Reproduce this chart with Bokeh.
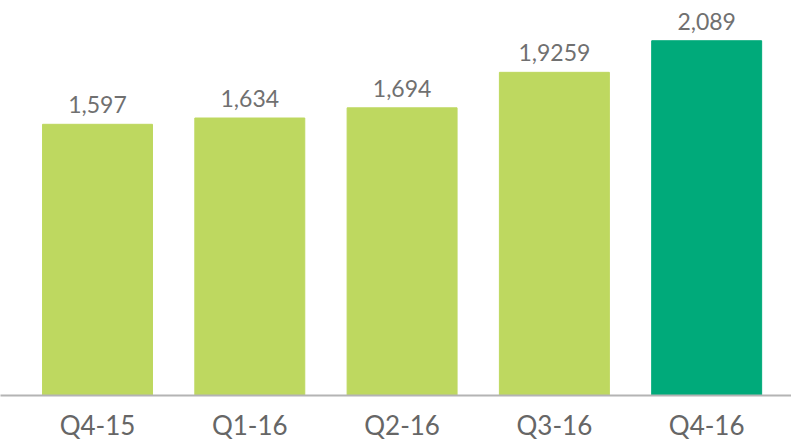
from bokeh.plotting import figure
from bokeh.models import ColumnDataSource, Range1d, FixedTicker, LabelSet
from bokeh.core.properties import value
from bokeh.embed import file_html
from bokeh.resources import INLINE

categories = ["Q4-15", "Q1-16", "Q2-16", "Q3-16", "Q4-16"]
values = [1597, 1634, 1694, 1903, 2089]
value_labels = ["1,597", "1,634", "1,694", "1,9259", "2,089"]
colors = ["#bed860", "#bed860", "#bed860", "#bed860", "#00aa7a"]

xs = list(range(len(categories)))
src = ColumnDataSource(dict(x=xs, top=values, lbl=value_labels, color=colors))

p = figure(frame_width=791, frame_height=395, output_backend="svg", toolbar_location=None,
           x_range=Range1d(-0.637, 4.557), y_range=Range1d(0, 2326),
           min_border=0, min_border_left=0, min_border_right=0, min_border_top=0)
p.vbar(x="x", top="top", width=0.722, color="color", source=src)

labels = LabelSet(x="x", y="top", text="lbl", source=src, text_align="center",
                  text_baseline="bottom", y_offset=11, text_font=value("Lato"),
                  text_font_size="23px", text_color="#707070")
p.add_layout(labels)

p.yaxis.visible = False
p.xgrid.visible = False
p.ygrid.visible = False
p.outline_line_color = None
p.xaxis.ticker = FixedTicker(ticks=xs)
p.xaxis.major_label_overrides = {i: c for i, c in zip(xs, categories)}
p.xaxis.major_tick_line_color = None
p.xaxis.minor_tick_line_color = None
p.xaxis.axis_line_color = "#b4b4b4"
p.xaxis.axis_line_width = 2
p.xaxis.major_label_text_font = "Lato"
p.xaxis.major_label_text_font_size = "26px"
p.xaxis.major_label_text_color = "#666666"
p.xaxis.major_label_standoff = 7

open("out.html", "w").write(file_html(p, INLINE))
